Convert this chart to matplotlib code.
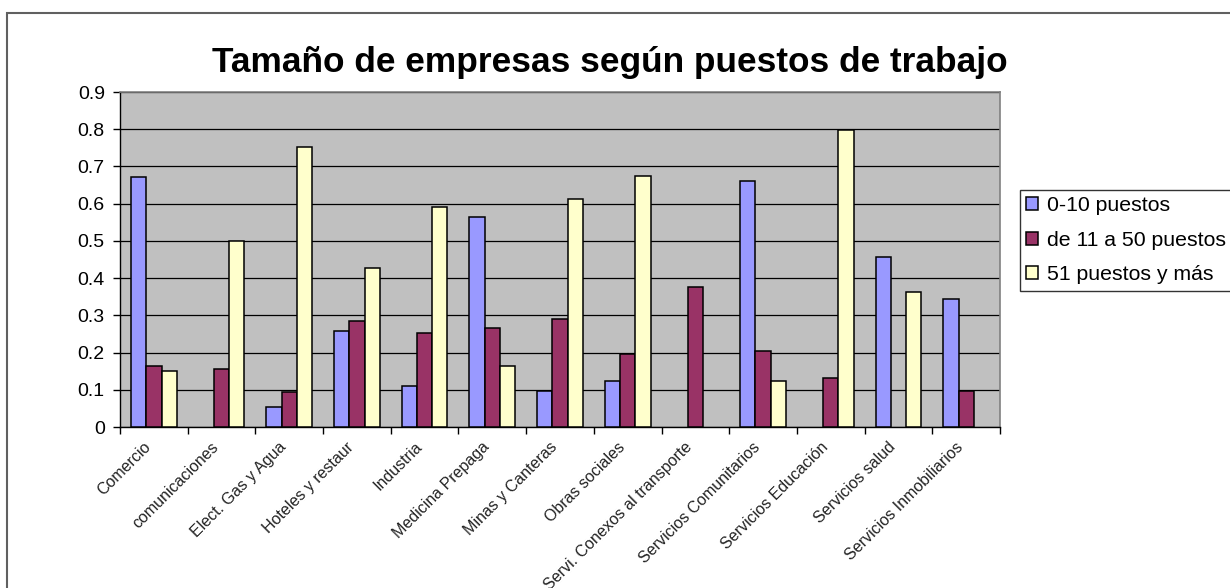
import matplotlib
matplotlib.use("Agg")
import matplotlib.pyplot as plt
from matplotlib.patches import Rectangle
import numpy as np

# Data
categorias = ["Comercio", "comunicaciones", "Elect. Gas y Agua", "Hoteles y restaur",
              "Industria", "Medicina Prepaga", "Minas y Canteras", "Obras sociales",
              "Servi. Conexos al transporte", "Servicios Comunitarios",
              "Servicios Educación", "Servicios salud", "Servicios Inmobiliarios"]
p_0_10 = [0.671, 0.0, 0.054, 0.259, 0.111, 0.563, 0.098, 0.123, 0.0, 0.662, 0.0, 0.457, 0.345]
p_11_50 = [0.165, 0.155, 0.094, 0.285, 0.253, 0.266, 0.289, 0.196, 0.377, 0.204, 0.132, 0.0, 0.098]
p_51_mas = [0.150, 0.501, 0.752, 0.426, 0.592, 0.165, 0.612, 0.674, 0.0, 0.123, 0.797, 0.364, 0.0]
series = ["0-10 puestos", "de 11 a 50 puestos", "51 puestos y más"]
colores = ["#9999FF", "#993366", "#FFFFCC"]
y_ticks = [0, 0.1, 0.2, 0.3, 0.4, 0.5, 0.6, 0.7, 0.8, 0.9]
y_labels = ["0", "0.1", "0.2", "0.3", "0.4", "0.5", "0.6", "0.7", "0.8", "0.9"]

plt.rcParams['font.family'] = ['Liberation Sans', 'DejaVu Sans']

fig = plt.figure(figsize=(12.3, 5.88), dpi=100)
ax = fig.add_axes([0.0976, 0.2738, 0.7154, 0.5697])
ax.set_facecolor("#C0C0C0")

x = np.arange(len(categorias))
w = 0.225
for i, (vals, nombre, c) in enumerate(zip([p_0_10, p_11_50, p_51_mas], series, colores)):
    vals = np.array(vals)
    mask = vals > 0
    ax.bar(x[mask] + (i - 1) * w, vals[mask], w, color=c, edgecolor="black",
           linewidth=1.1, label=nombre, zorder=3)

ax.set_xlim(-0.5, len(categorias) - 0.5)
ax.set_ylim(0, 0.9)
ax.set_yticks(y_ticks)
ax.set_yticklabels(y_labels, fontsize=14)
ax.yaxis.grid(True, color="black", linewidth=0.9, zorder=1)
ax.set_axisbelow(True)

# ticks at category boundaries, labels at centers
ax.set_xticks(np.arange(-0.5, len(categorias), 1.0))
ax.set_xticklabels([])
ax.set_xticks(x, minor=True)
ax.set_xticklabels(categorias, minor=True, rotation=45, ha="right", fontsize=11.5,
                   color="#222222")
ax.tick_params(axis="x", which="minor", length=0, pad=9)
ax.tick_params(axis="x", which="major", length=5, width=1, direction="out")
ax.tick_params(axis="y", length=5, width=1, direction="out", pad=6)

for s in ["top", "right"]:
    ax.spines[s].set_color("#808080")
    ax.spines[s].set_linewidth(1.2)
for s in ["left", "bottom"]:
    ax.spines[s].set_color("black")
    ax.spines[s].set_linewidth(1.0)

fig.text(0.496, 0.893, "Tamaño de empresas según puestos de trabajo",
         ha="center", va="center", fontsize=25.4, fontweight="bold")

leg = fig.legend(loc="upper left", bbox_to_anchor=(0.829, 0.677), fontsize=15.3,
                 frameon=True, fancybox=False, edgecolor="black", borderpad=0.3,
                 labelspacing=0.73, handlelength=0.55, handleheight=0.55,
                 handletextpad=0.45, borderaxespad=0)
leg.get_frame().set_linewidth(1.0)

# outer chart border
fig.patches.append(Rectangle((7 / 1230, -0.5), 2.0, 1.5 - 13 / 588,
                             transform=fig.transFigure, fill=False,
                             edgecolor="#606060", linewidth=1.5))

fig.savefig("out.png", dpi=100)
